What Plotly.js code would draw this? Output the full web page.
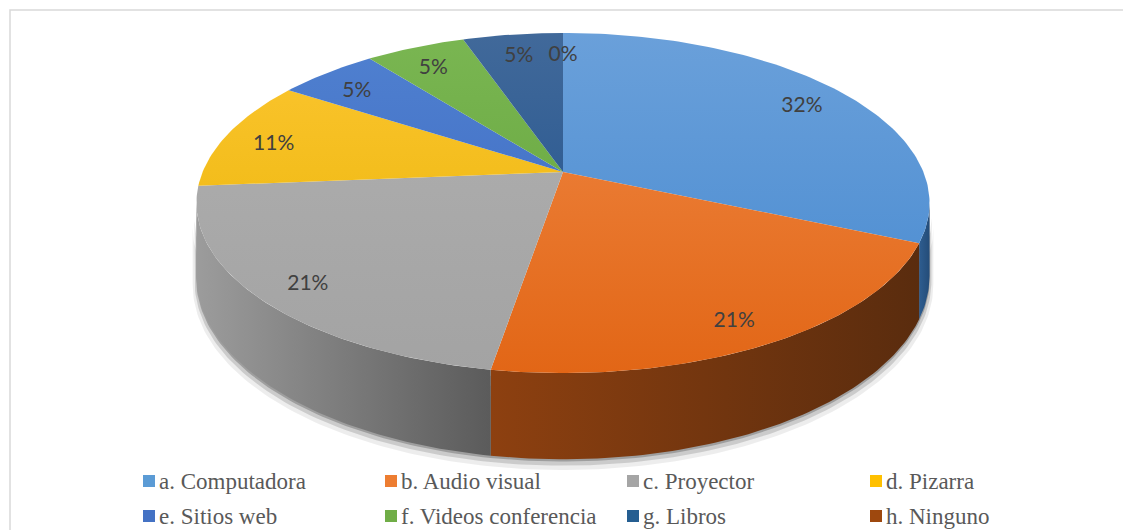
<!DOCTYPE html>
<html><head><meta charset="utf-8">
<script src="https://cdn.plot.ly/plotly-3.0.1.min.js"></script>
<style>html,body{margin:0;padding:0;background:#fff;}#chart{width:1123px;height:530px;}</style>
</head><body><div id="chart"></div>
<script>
// ---- data ----
const categories = ['a. Computadora','b. Audio visual','c. Proyector','d. Pizarra',
                    'e. Sitios web','f. Videos conferencia','g. Libros','h. Ninguno'];
const counts = [6, 4, 4, 2, 1, 1, 1, 0];

// ---- styles ----
const baseColors = ['#5B9BD5','#ED7D31','#A5A5A5','#FFC000','#4472C4','#70AD47','#255E91','#9E480E'];
const topLight  = ['#6aa0da','#ef8845','#b0b0b0','#fcc632','#5081d0','#7ab652','#41699a','#a85020'];
const topDark   = ['#4689d0','#e26616','#a3a3a3','#e8b200','#3a66c0','#60a138','#1b4e8a','#8e3f0a'];
const sideLeft  = ['#2e5d90','#8d4010','#9c9c9c','#a07800','#2a4a85','#4a7a2a','#163a66','#6a300a'];
const sideRight = ['#244c78','#5a2c0e','#5b5b5b','#806000','#203a70','#3c6622','#112f55','#5a2808'];

// ---- geometry (pixel layout of the 3D pie) ----
const G = {cx:563, cy:172, A:360.4, B:164.4, k:0.1824, H:70.5};
function proj(phiDeg, r, bottom, dy) {
  const p = phiDeg * Math.PI / 180;
  const u = Math.sin(p) * r, v = -Math.cos(p) * r;
  const d = 1 - G.k * v;
  return [G.cx + G.A * u / d, G.cy + G.B * v / d + (bottom ? G.H / d : 0) + (dy || 0)];
}
const visL0 = 90 + Math.asin(G.k) * 180 / Math.PI;
const visL1 = 360 - visL0;

const total = counts.reduce((a, b) => a + b, 0);
const starts = [], ends = [];
let acc = 0;
counts.forEach(c => { starts.push(acc / total * 360); acc += c; ends.push(acc / total * 360); });

function arc(a0, a1, r, bottom, dy) {
  const pts = [];
  const n = Math.max(2, Math.ceil((a1 - a0) / 1));
  for (let i = 0; i <= n; i++) pts.push(proj(a0 + (a1 - a0) * i / n, r, bottom, dy));
  return pts;
}

const traces = [];

// soft shadow under the cylinder
[[1.010, 8, 'rgba(0,0,0,0.07)'], [1.005, 5, 'rgba(0,0,0,0.14)'], [1.001, 2, 'rgba(0,0,0,0.22)']].forEach(s => {
  const top = arc(visL0, visL1, s[0], false, s[1] * 3);
  const bot = arc(visL0, visL1, s[0], true, s[1]).reverse();
  const pts = top.concat(bot);
  traces.push({type:'scatter', mode:'lines', x:pts.map(p => p[0]), y:pts.map(p => p[1]),
    fill:'toself', fillcolor:s[2], line:{width:0}, hoverinfo:'skip', showlegend:false});
});

// side walls
counts.forEach((c, i) => {
  const a0 = Math.max(starts[i], visL0), a1 = Math.min(ends[i], visL1);
  if (c <= 0 || a1 <= a0) return;
  const top = arc(a0, a1, 1, false), bot = arc(a0, a1, 1, true).reverse();
  const pts = top.concat(bot);
  traces.push({type:'scatter', mode:'lines', x:pts.map(p => p[0]), y:pts.map(p => p[1]),
    fill:'toself', line:{width:0},
    fillgradient:{type:'horizontal', colorscale:[[0, sideLeft[i]], [1, sideRight[i]]]},
    hoverinfo:'skip', showlegend:false});
});

// top faces
const yTop = proj(0, 1)[1], yBot = proj(180, 1)[1];
counts.forEach((c, i) => {
  if (c <= 0) return;
  const pts = [[G.cx, G.cy]].concat(arc(starts[i], ends[i], 1, false), [[G.cx, G.cy]]);
  traces.push({type:'scatter', mode:'lines', x:pts.map(p => p[0]), y:pts.map(p => p[1]),
    fill:'toself', line:{width:0},
    fillgradient:{type:'vertical', start:yTop, stop:yBot, colorscale:[[0, topLight[i]], [1, topDark[i]]]},
    hoverinfo:'skip', showlegend:false});
});

// percentage labels
const lx = [], ly = [], lt = [];
counts.forEach((c, i) => {
  const p = proj((starts[i] + ends[i]) / 2, 0.86, false, 6);
  lx.push(p[0]); ly.push(p[1]); lt.push(Math.round(c / total * 100) + '%');
});
traces.push({type:'scatter', mode:'text', x:lx, y:ly, text:lt, textposition:'middle center',
  textfont:{family:'Lato, "Open Sans", sans-serif', size:21, color:'#404040'},
  hoverinfo:'skip', showlegend:false});

// ---- legend (annotations + squares) ----
const legColX = [143, 385, 627, 870];
const legRowY = [481, 516];
const annotations = [], shapes = [];
shapes.push({type:'rect', xref:'x', yref:'y', x0:10, y0:10, x1:1140, y1:545,
  line:{color:'#d9d9d9', width:1.5}, fillcolor:'rgba(0,0,0,0)'});
categories.forEach((name, i) => {
  const x = legColX[i % 4], y = legRowY[Math.floor(i / 4)];
  shapes.push({type:'rect', xref:'x', yref:'y', x0:x, x1:x + 12, y0:y - 6, y1:y + 6,
    line:{width:0}, fillcolor:baseColors[i]});
  annotations.push({x:x + 15, y:y, xref:'x', yref:'y', xanchor:'left', yanchor:'middle',
    text:name, showarrow:false, borderpad:0,
    font:{family:'"Liberation Serif", "Times New Roman", serif', size:23, color:'#595959'}});
});

const layout = {
  width:1123, height:530, margin:{l:0, r:0, t:0, b:0},
  paper_bgcolor:'#ffffff', plot_bgcolor:'#ffffff',
  xaxis:{range:[0, 1123], visible:false, fixedrange:true},
  yaxis:{range:[530, 0], visible:false, fixedrange:true},
  showlegend:false, shapes:shapes, annotations:annotations
};
Plotly.newPlot('chart', traces, layout, {staticPlot:true, displayModeBar:false});
</script>
</body></html>
